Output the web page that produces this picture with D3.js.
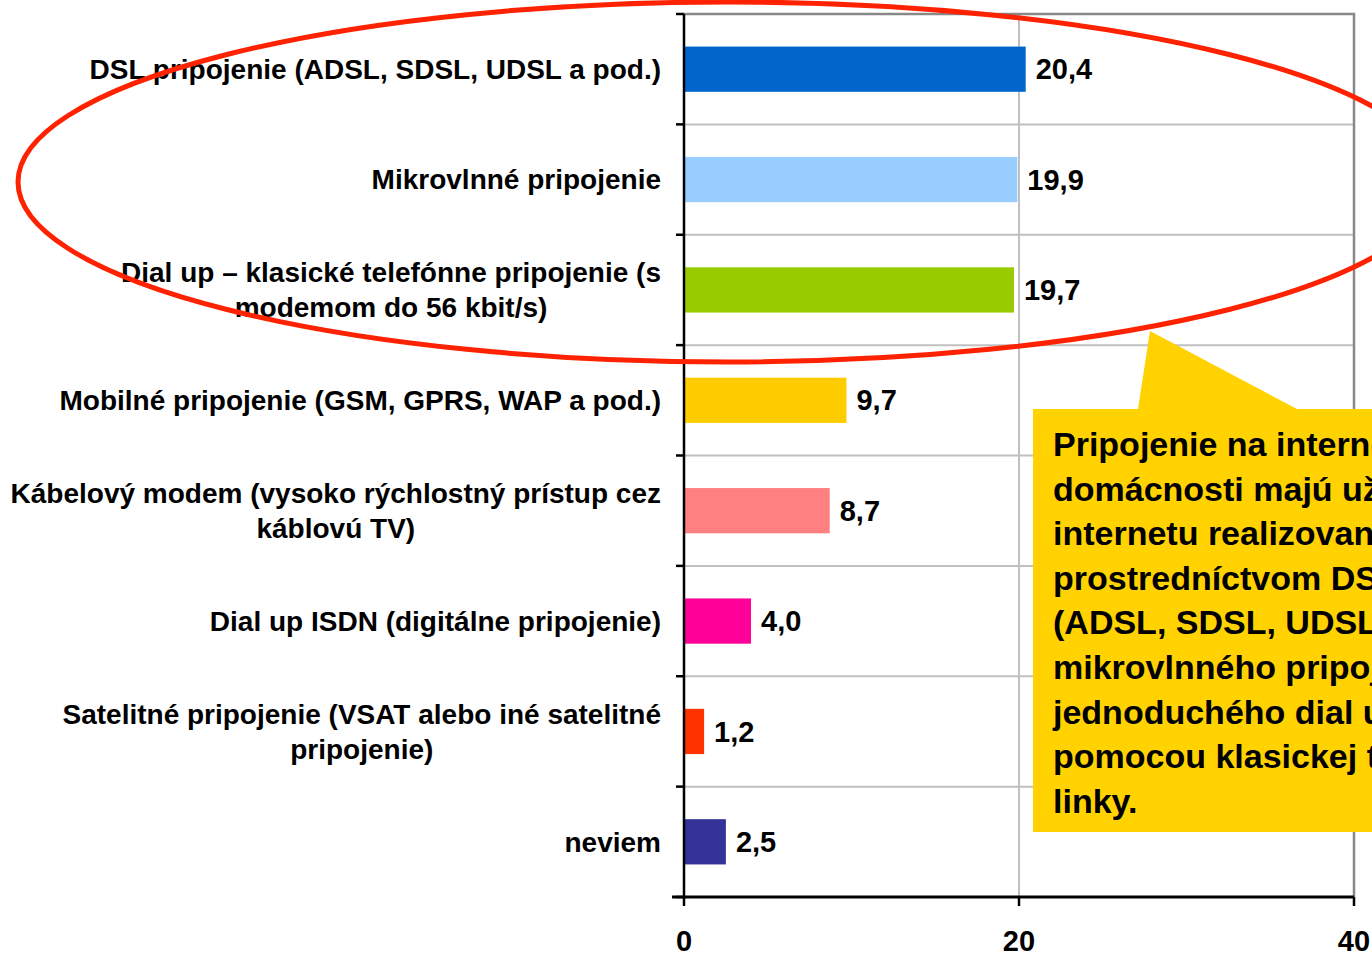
<!DOCTYPE html>
<html>
<head>
<meta charset="utf-8">
<script src="https://cdn.jsdelivr.net/npm/d3@7"></script>
<style>
  html, body { margin: 0; padding: 0; background: #fff; overflow: hidden; }
  text { font-family: "Liberation Sans", Arial, sans-serif; font-weight: bold; fill: #000; }
</style>
</head>
<body>
<script>
// data
var categories = [
  "DSL pripojenie (ADSL, SDSL, UDSL a pod.)",
  "Mikrovlnné pripojenie",
  "Dial up – klasické telefónne pripojenie (s|modemom do 56 kbit/s)",
  "Mobilné pripojenie (GSM, GPRS, WAP a pod.)",
  "Kábelový modem (vysoko rýchlostný prístup cez|káblovú TV)",
  "Dial up ISDN (digitálne pripojenie)",
  "Satelitné pripojenie (VSAT alebo iné satelitné|pripojenie)",
  "neviem"
];
var values = [20.4, 19.9, 19.7, 9.7, 8.7, 4.0, 1.2, 2.5];
var colours = ["#0066CC", "#99CCFF", "#99CC00", "#FFCC00", "#FF8080", "#FF0099", "#FF3300", "#333399"];
var xTicks = [0, 20, 40];
var noteLines = [
  "Pripojenie na internet v",
  "domácnosti majú užívatelia",
  "internetu realizované",
  "prostredníctvom DSL",
  "(ADSL, SDSL, UDSL),",
  "mikrovlnného pripojenia a",
  "jednoduchého dial up",
  "pomocou klasickej telefónnej",
  "linky."
];

var W = 1372, H = 954;
var pLeft = 684, pRight = 1354, pTop = 14, pBottom = 897;

var svg = d3.select("body").append("svg")
  .attr("width", W)
  .attr("height", H);

var x = d3.scaleLinear().domain([0, 40]).range([pLeft, pRight]);
var y = d3.scaleBand().domain(categories).range([pTop, pBottom]).padding(0);
var band = y.bandwidth();
var barH = band * 0.41;

// horizontal gridlines at band boundaries
var bounds = categories.map(function(d) { return y(d); }).concat([pBottom]);
svg.append("g").selectAll("line")
  .data(bounds.slice(1, -1))
  .enter().append("line")
    .attr("x1", pLeft).attr("x2", pRight)
    .attr("y1", function(d) { return d; })
    .attr("y2", function(d) { return d; })
    .attr("stroke", "#c0c0c0")
    .attr("stroke-width", 2);

// vertical gridline(s)
svg.append("g").selectAll("line")
  .data(xTicks.slice(1, -1))
  .enter().append("line")
    .attr("x1", function(d) { return x(d); })
    .attr("x2", function(d) { return x(d); })
    .attr("y1", pTop).attr("y2", pBottom)
    .attr("stroke", "#c0c0c0")
    .attr("stroke-width", 2);

// frame top + right
svg.append("path")
  .attr("d", "M" + pLeft + "," + pTop + "H" + pRight + "V" + pBottom)
  .attr("fill", "none")
  .attr("stroke", "#888")
  .attr("stroke-width", 2.5);

// bars
svg.append("g").selectAll("rect")
  .data(values)
  .enter().append("rect")
    .attr("x", x(0))
    .attr("y", function(d, i) { return y(categories[i]) + (band - barH) / 2; })
    .attr("width", function(d) { return x(d) - x(0); })
    .attr("height", barH)
    .attr("fill", function(d, i) { return colours[i]; });

// value labels
svg.append("g").selectAll("text")
  .data(values)
  .enter().append("text")
    .attr("x", function(d) { return x(d) + 10; })
    .attr("y", function(d, i) { return y(categories[i]) + band / 2; })
    .attr("dy", "0.35em")
    .style("font-size", "29px")
    .text(function(d) { return d.toFixed(1).replace(".", ","); });

// left axis
svg.append("line")
  .attr("x1", pLeft).attr("x2", pLeft)
  .attr("y1", pTop).attr("y2", pBottom)
  .attr("stroke", "#000").attr("stroke-width", 2.5);
svg.append("g").selectAll("line")
  .data(bounds)
  .enter().append("line")
    .attr("x1", pLeft - 8).attr("x2", pLeft)
    .attr("y1", function(d) { return d; })
    .attr("y2", function(d) { return d; })
    .attr("stroke", "#000").attr("stroke-width", 2.5);

// category labels (lines centred within block, block right-aligned)
var labelRight = pLeft - 23;
categories.forEach(function(c, i) {
  var lines = c.split("|");
  var cy = y(c) + band / 2;
  var g = svg.append("g");
  var texts = g.selectAll("text")
    .data(lines)
    .enter().append("text")
      .attr("y", function(d, j) { return cy + (j - (lines.length - 1) / 2) * 35; })
      .attr("dy", "0.35em")
      .style("font-size", "28px")
      .attr("text-anchor", "middle")
      .text(function(d) { return d; });
  var maxW = 0;
  texts.each(function() { maxW = Math.max(maxW, this.getComputedTextLength()); });
  texts.attr("x", labelRight - maxW / 2);
});

// bottom axis
svg.append("line")
  .attr("x1", pLeft - 12).attr("x2", pRight)
  .attr("y1", pBottom).attr("y2", pBottom)
  .attr("stroke", "#000").attr("stroke-width", 3);
svg.append("g").selectAll("line")
  .data(xTicks)
  .enter().append("line")
    .attr("x1", function(d) { return x(d); })
    .attr("x2", function(d) { return x(d); })
    .attr("y1", pBottom).attr("y2", pBottom + 9)
    .attr("stroke", "#000").attr("stroke-width", 2.5);
svg.append("g").selectAll("text")
  .data(xTicks)
  .enter().append("text")
    .attr("x", function(d) { return x(d); })
    .attr("y", 951)
    .attr("text-anchor", "middle")
    .style("font-size", "29px")
    .text(function(d) { return d; });

// callout
svg.append("path")
  .attr("d", "M1033,409 L1138,409 L1150,331 L1297,409 L1380,409 L1380,832 L1033,832 Z")
  .attr("fill", "#FFD200");
svg.append("g").selectAll("text")
  .data(noteLines)
  .enter().append("text")
    .attr("x", 1053)
    .attr("y", function(d, i) { return 456 + i * 44.6; })
    .style("font-size", "34px")
    .text(function(d) { return d; });

// red ellipse round the top three
svg.append("ellipse")
  .attr("cx", 728).attr("cy", 182)
  .attr("rx", 710).attr("ry", 180)
  .attr("fill", "none")
  .attr("stroke", "#FF2200")
  .attr("stroke-width", 5);
</script>
</body>
</html>
